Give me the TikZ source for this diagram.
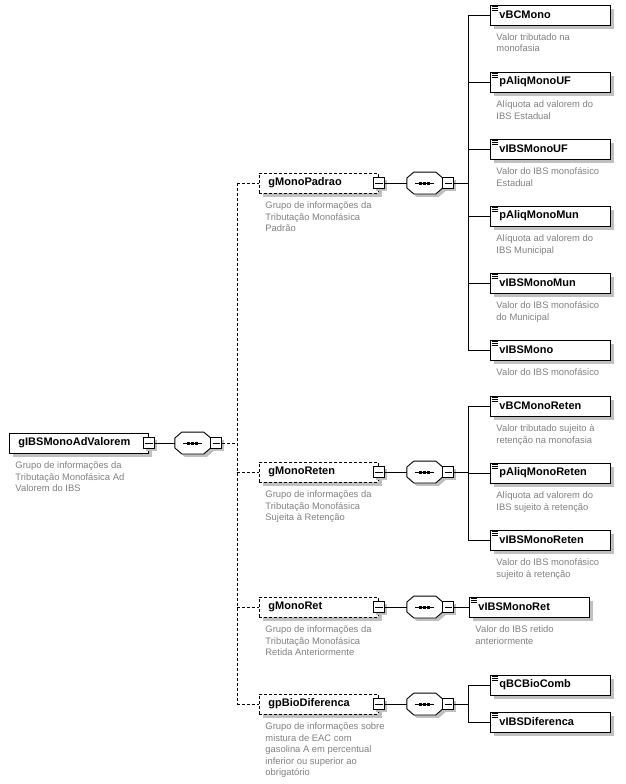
\documentclass[tikz,border=0pt]{standalone}
\usepackage{fontspec}
\setmainfont{Liberation Sans}
\usetikzlibrary{shadows}
\definecolor{desc}{RGB}{128,128,128}
\definecolor{shad}{RGB}{192,192,192}
\tikzset{
  elem/.style={draw, fill=white, anchor=west, minimum height=20pt, inner ysep=0pt,
    inner xsep=9pt, text width=#1, align=left, font=\fontsize{11}{13}\selectfont\bfseries,
    drop shadow={shadow xshift=4pt, shadow yshift=-4pt, fill=shad, opacity=1}},
  grp/.style={elem=#1, dash pattern=on 3pt off 2pt},
  minusbox/.style={draw, solid, fill=white, minimum size=11pt, inner sep=0pt,
    drop shadow={shadow xshift=2.5pt, shadow yshift=-2.5pt, fill=shad, opacity=1}},
  seqbox/.style={minimum width=35pt, minimum height=21pt, inner sep=0pt, anchor=west},
  descr/.style={anchor=base west, inner sep=0pt, text=desc, font=\fontsize{9.4}{11.5}\selectfont},
  dline/.style={dash pattern=on 3pt off 2pt},
}
\newcommand\minusat[2]{%
  \node[minusbox] (#1) at (#2) {};
  \draw ([xshift=-3.6pt]#1.center) -- ([xshift=3.6pt]#1.center);}
\newcommand\octpath[3]{%
  ([xshift=7pt,xshift=#2,yshift=#3]#1.north west) -- ([xshift=-7pt,xshift=#2,yshift=#3]#1.north east)
  -- ([yshift=-6pt,xshift=#2,yshift=#3]#1.north east) -- ([yshift=6pt,xshift=#2,yshift=#3]#1.south east)
  -- ([xshift=-7pt,xshift=#2,yshift=#3]#1.south east) -- ([xshift=7pt,xshift=#2,yshift=#3]#1.south west)
  -- ([yshift=6pt,xshift=#2,yshift=#3]#1.south west) -- ([yshift=-6pt,xshift=#2,yshift=#3]#1.north west) -- cycle}
\newcommand\seqafter[3]{% name, minus node, gap
  \node[seqbox] (#1) at ([xshift=#3]#2.east) {};
  \fill[shad] \octpath{#1}{3pt}{-3pt};
  \draw[fill=white] \octpath{#1}{0pt}{0pt};
  \draw ([xshift=-9.5pt]#1.center) -- ([xshift=9.5pt]#1.center);
  \foreach \d in {-4,0,4} \fill ([xshift=\d pt]#1.center) +(-1.5,-1.5) rectangle +(1.5,1.5);
  \minusat{#1m}{[xshift=5.5pt]#1.east}}
\newcommand\icon[1]{%
  \foreach \k in {2.0,3.7,5.4} \draw[line width=0.7pt] ([xshift=2pt,yshift=-\k pt]#1.north west) -- ++(5.5,0);}
\newcommand\descat[2]{%
  \node[descr] (#1d) at ([shift={(6,25.5)}]#1.west) {\parbox[t]{160pt}{\raggedright #2}};}
\begin{document}
\begin{tikzpicture}[x=1pt, y=-1pt, line width=0.9pt]
\useasboundingbox (0,0) rectangle (625,784);
% root
\node[elem=121pt] (root) at (9,443) {gIBSMonoAdValorem};
\descat{root}{Grupo de informações da\\Tributação Monofásica Ad\\Valorem do IBS}
\minusat{rootm}{root.east}
\seqafter{rooto}{rootm}{20pt}
% groups
\node[grp=101pt] (g1) at (259,183) {gMonoPadrao};
\node[grp=101pt] (g2) at (259,472) {gMonoReten};
\node[grp=101pt] (g3) at (259,607) {gMonoRet};
\node[grp=101pt] (g4) at (259,704) {gpBioDiferenca};
\descat{g1}{Grupo de informações da\\Tributação Monofásica\\Padrão}
\descat{g2}{Grupo de informações da\\Tributação Monofásica\\Sujeita à Retenção}
\descat{g3}{Grupo de informações da\\Tributação Monofásica\\Retida Anteriormente}
\descat{g4}{Grupo de informações sobre\\mistura de EAC com\\gasolina A em percentual\\inferior ou superior ao\\obrigatório}
\foreach \g in {g1,g2,g3,g4}{\minusat{\g m}{\g.east}}
\seqafter{g1o}{g1m}{22pt}
\seqafter{g2o}{g2m}{22pt}
\seqafter{g3o}{g3m}{22pt}
\seqafter{g4o}{g4m}{22pt}
% children
\node[elem=102pt] (c1) at (490,15) {vBCMono};
\node[elem=102pt] (c2) at (490,82) {pAliqMonoUF};
\node[elem=102pt] (c3) at (490,149) {vIBSMonoUF};
\node[elem=102pt] (c4) at (490,216) {pAliqMonoMun};
\node[elem=102pt] (c5) at (490,283) {vIBSMonoMun};
\node[elem=102pt] (c6) at (490,350) {vIBSMono};
\node[elem=102pt] (c7) at (490,406) {vBCMonoReten};
\node[elem=102pt] (c8) at (490,473) {pAliqMonoReten};
\node[elem=102pt] (c9) at (490,540) {vIBSMonoReten};
\node[elem=102pt] (c10) at (469,607) {vIBSMonoRet};
\node[elem=102pt] (c11) at (490,685) {qBCBioComb};
\node[elem=102pt] (c12) at (490,722) {vIBSDiferenca};
\foreach \c in {c1,c2,c3,c4,c5,c6,c7,c8,c9,c10,c11,c12}{\icon{\c}}
\descat{c1}{Valor tributado na\\monofasia}
\descat{c2}{Alíquota ad valorem do\\IBS Estadual}
\descat{c3}{Valor do IBS monofásico\\Estadual}
\descat{c4}{Alíquota ad valorem do\\IBS Municipal}
\descat{c5}{Valor do IBS monofásico\\do Municipal}
\descat{c6}{Valor do IBS monofásico}
\descat{c7}{Valor tributado sujeito à\\retenção na monofasia}
\descat{c8}{Alíquota ad valorem do\\IBS sujeito à retenção}
\descat{c9}{Valor do IBS monofásico\\sujeito à retenção}
\descat{c10}{Valor do IBS retido\\anteriormente}
% connectors
\draw (rootm.east) -- (rooto.west);
\coordinate (jr) at (237,443);
\draw[dline] (rootom.east) -- (jr);
\draw[dline] (jr |- g1.west) -- (jr |- g4.west);
\foreach \g in {g1,g2,g3,g4}{
  \draw[dline] (jr |- \g.west) -- (\g.west);
  \draw (\g m.east) -- (\g o.west);}
\coordinate (j1) at (468,183);
\coordinate (j2) at (468,472);
\coordinate (j4) at (468,704);
\draw (g1om.east) -- (j1);
\draw (j1 |- c1.west) -- (j1 |- c6.west);
\foreach \c in {c1,c2,c3,c4,c5,c6}{\draw (j1 |- \c.west) -- (\c.west);}
\draw (g2om.east) -- (j2);
\draw (j2 |- c7.west) -- (j2 |- c9.west);
\foreach \c in {c7,c8,c9}{\draw (j2 |- \c.west) -- (\c.west);}
\draw (g3om.east) -- (c10.west);
\draw (g4om.east) -- (j4);
\draw (j4 |- c11.west) -- (j4 |- c12.west);
\foreach \c in {c11,c12}{\draw (j4 |- \c.west) -- (\c.west);}
\end{tikzpicture}
\end{document}
